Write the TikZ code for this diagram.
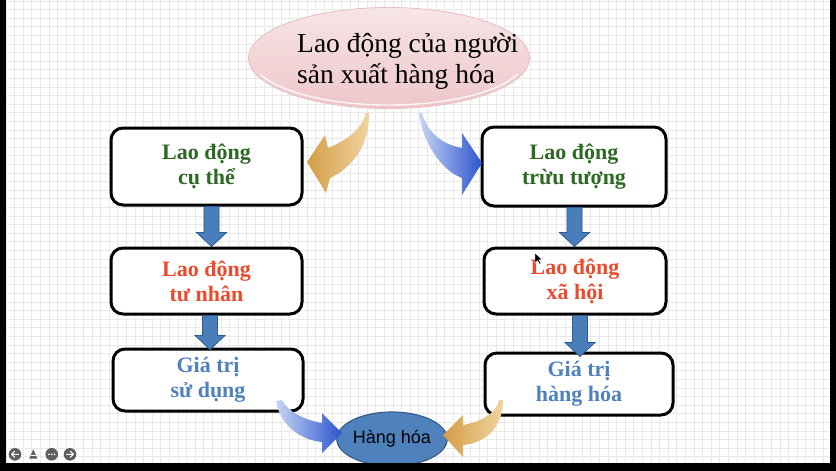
\documentclass[tikz,border=0pt]{standalone}
\usepackage{fontspec}
\setmainfont{Liberation Serif}
\newfontfamily\arialf{Liberation Sans}
\usetikzlibrary{calc,shapes.geometric}
\definecolor{gridc}{RGB}{233,233,233}
\definecolor{tgreen}{RGB}{45,105,35}
\definecolor{tred}{RGB}{236,74,44}
\definecolor{tblue}{RGB}{79,129,189}
\definecolor{arrowblue}{RGB}{74,126,187}
\definecolor{arrowedge}{RGB}{47,90,145}
\definecolor{hhblue}{RGB}{79,129,189}
\definecolor{hhedge}{RGB}{56,93,138}
\definecolor{orD}{RGB}{212,158,70}
\definecolor{orL}{RGB}{240,212,160}
\definecolor{blL}{RGB}{200,213,243}
\definecolor{blD}{RGB}{44,84,206}
\definecolor{pinkT}{RGB}{247,229,230}
\definecolor{pinkB}{RGB}{238,198,202}
\definecolor{pinkE}{RGB}{232,190,195}
\definecolor{icong}{RGB}{95,95,95}
\newcommand\blkdown[4]{%
  \path[fill=arrowblue, draw=arrowedge, line width=0.8pt]
    let \p1=($(#1.south)+(#3,0)$), \p2=($(#2.north)+(#3,#4)$) in
    (\x1-7.5pt,\y1) -- (\x1+7.5pt,\y1) -- (\x1+7.5pt,\y2+14pt) -- (\x1+15pt,\y2+14pt)
    -- (\x1,\y2) -- (\x1-15pt,\y2+14pt) -- (\x1-7.5pt,\y2+14pt) -- cycle;}
\tikzset{
  box/.style={draw=black, line width=3pt, rounded corners=12pt, fill=white,
    align=center, font=\bfseries\fontsize{22}{25}\selectfont, inner sep=0pt},
  toptext/.style={anchor=base west, inner sep=0pt, font=\fontsize{27.5}{31}\selectfont},
  navicon/.style={fill=icong},
}
\begin{document}
\begin{tikzpicture}[x=1pt,y=-1pt]
\useasboundingbox (0,0) rectangle (836,471);
\fill[white] (0,0) rectangle (836,471);
% background grid
\foreach \i in {0,...,97} \draw[gridc, line width=0.9pt] (6+\i*8.6,0) -- (6+\i*8.6,463);
\foreach \j in {0,...,54} \draw[gridc, line width=0.9pt] (6,1+\j*8.6) -- (830,1+\j*8.6);

% top ellipse
\node[ellipse, minimum width=281pt, minimum height=101pt, inner sep=0pt,
  top color=pinkT, bottom color=pinkB, draw=pinkE, line width=0.8pt] (top) at (389,58) {};
\draw[white, opacity=0.85, line width=1.4pt] (517.7,74.1) arc[start angle=20, end angle=160, x radius=137, y radius=47];
\node[toptext] (tl1) at (297,52) {Lao động của người};
\node[toptext] (tl2) at (297,83) {sản xuất hàng hóa};

% boxes
\node[box, minimum width=191pt, minimum height=77pt, text=tgreen] (b1) at (206.5,166.5) {Lao động\\cụ thể};
\node[box, minimum width=191pt, minimum height=66pt, text=tred] (b2) at (206.5,281) {Lao động\\tư nhân};
\node[box, minimum width=190pt, minimum height=62pt, text=tblue] (b3) at (208,380) {Giá trị\\sử dụng};
\node[box, minimum width=184pt, minimum height=79pt, text=tgreen] (r1) at (574,166.5) {Lao động\\trừu tượng};
\node[box, minimum width=182pt, minimum height=66pt, text=tred] (r2) at (575,281) {Lao động\\xã hội};
\node[box, minimum width=188pt, minimum height=62pt, text=tblue] (r3) at (579,384) {Giá trị\\hàng hóa};

% straight block arrows
\blkdown{b1}{b2}{5}{0}
\blkdown{b2}{b3}{3.5}{2}
\blkdown{r1}{r2}{0.5}{0}
\blkdown{r2}{r3}{5}{5}

% curved arrows from the top ellipse
\shade[left color=orD, right color=orL]
  (366,113) .. controls (362,130) and (345,141) .. (328,148) -- (325,135) -- (307,162)
  -- (326,193) -- (330,178) .. controls (352,168) and (370,145) .. (369,113) -- cycle;
\shade[left color=blL, right color=blD]
  (419,113) .. controls (422,140) and (440,170) .. (462,178) -- (462,195) -- (482,163)
  -- (462,133) -- (462,148) .. controls (445,145) and (428,135) .. (422,113) -- cycle;

% bottom ellipse
\node[ellipse, minimum width=101pt, minimum height=54pt, inner sep=0pt,
  fill=hhblue, draw=hhedge, line width=1.2pt, font=\arialf\fontsize{18}{20}\selectfont]
  (hh) at (392,439) {Hàng hóa};

% curved arrows to the bottom ellipse
\shade[left color=blL, right color=blD]
  (276,401) .. controls (280,425) and (300,440) .. (322,442) -- (322,453) -- (342,433)
  -- (322,413) -- (322,423) .. controls (305,420) and (288,412) .. (282,400) -- cycle;
\shade[left color=orD, right color=orL]
  (499,400) .. controls (497,412) and (482,422) .. (463,425) -- (463,415) -- (443,435)
  -- (463,457) -- (463,445) .. controls (485,443) and (503,428) .. (503,400) -- cycle;

% mouse cursor
\filldraw[fill=black, draw=white, line width=0.4pt]
  (535,253) -- (535,263) -- (537.5,260.6) -- (539.4,264.2) -- (541,263.4) -- (539.1,259.9) -- (542.2,259.6) -- cycle;

% screen frame
\fill[black] (0,463) rectangle (836,471);
\fill[black] (0,0) rectangle (6,471);
\fill[black] (830,0) rectangle (836,471);

% navigation icons
\fill[navicon] (15,454.3) circle[radius=6.3];
\draw[white, line width=1.1pt, line cap=round, line join=round] (18.5,454.3) -- (11.6,454.3) (14.6,451.3) -- (11.6,454.3) -- (14.6,457.3);
\fill[navicon] (29.2,458.6) -- (33.3,449.2) -- (37.4,458.6) -- cycle;
\draw[white, line width=0.8pt] (30.8,455.2) -- (35.8,455.2);
\fill[navicon] (51.7,454.3) circle[radius=6.3];
\foreach \d in {-2.8,0,2.8} \fill[white] (51.7+\d,454.3) circle[radius=0.95];
\fill[navicon] (70,454.3) circle[radius=6.3];
\draw[white, line width=1.1pt, line cap=round, line join=round] (66.5,454.3) -- (73.4,454.3) (70.4,451.3) -- (73.4,454.3) -- (70.4,457.3);
\end{tikzpicture}
\end{document}
